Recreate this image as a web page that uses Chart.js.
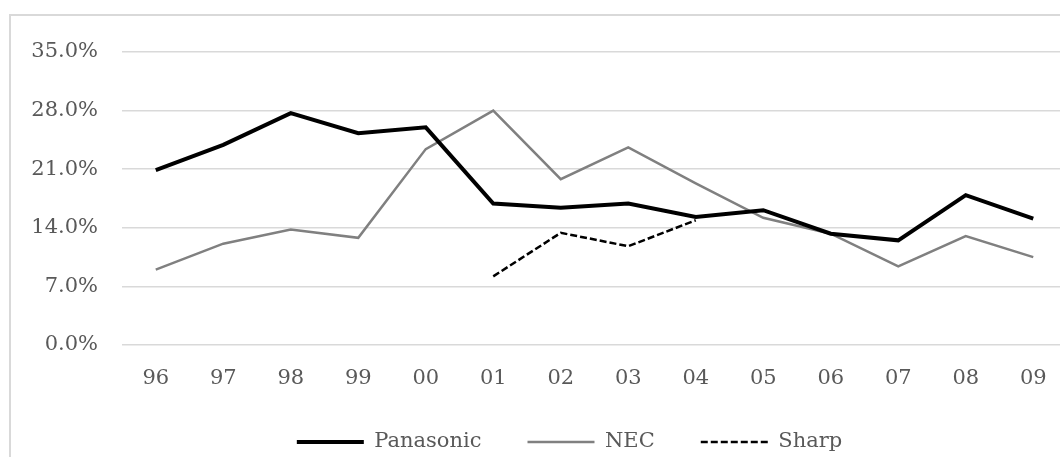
<!DOCTYPE html>
<html>
<head>
<meta charset="utf-8">
<script src="https://cdn.jsdelivr.net/npm/chart.js@4"></script>
<style>
  html, body { margin: 0; padding: 0; background: #fff; overflow: hidden; }
  body { width: 1060px; height: 457px; position: relative; }
  #frame { position: absolute; left: 9px; top: 14px; width: 1200px; height: 600px;
           border-left: 2px solid #d9d9d9; border-top: 2px solid #d9d9d9; }
  #wrap { position: absolute; left: 0; top: 0; width: 1130px; height: 470px; }
</style>
</head>
<body>
<div id="frame"></div>
<div id="wrap"><canvas id="chart"></canvas></div>
<script>
// Share by fiscal year
var years     = ['96', '97', '98', '99', '00', '01', '02', '03', '04', '05', '06', '07', '08', '09'];
var panasonic = [20.9, 23.9, 27.7, 25.3, 26.0, 16.9, 16.4, 16.9, 15.3, 16.1, 13.3, 12.5, 17.9, 15.1];
var nec       = [9.0, 12.1, 13.8, 12.8, 23.4, 28.0, 19.8, 23.6, 19.3, 15.2, 13.3, 9.4, 13.0, 10.5];
var sharp     = [null, null, null, null, null, 8.2, 13.4, 11.8, 14.9, null, null, null, null, null];
var yTicks    = [0, 7, 14, 21, 28, 35];

var labelFont = { family: 'DejaVu Serif', size: 21 };
var labelColor = '#595959';

// Legend sits centred on the whole (wider) chart frame, not on the plot
var legendShift = {
    id: 'legendShift',
    afterLayout: function(chart) {
        var l = chart.legend;
        l.left += 36; l.right += 36;
        l.top -= 7.5; l.bottom -= 7.5;
    }
};

new Chart(document.getElementById('chart'), {
    type: 'line',
    data: {
        labels: years,
        datasets: [{
            label: 'Panasonic',
            data: panasonic,
            borderColor: '#000000',
            borderWidth: 4,
            pointRadius: 0,
            pointStyle: 'line',
            tension: 0
        }, {
            label: 'NEC',
            data: nec,
            borderColor: '#808080',
            borderWidth: 2.5,
            pointRadius: 0,
            pointStyle: 'line',
            tension: 0
        }, {
            label: 'Sharp',
            data: sharp,
            borderColor: '#000000',
            borderWidth: 2.5,
            borderDash: [7, 3],
            pointRadius: 0,
            pointStyle: 'line',
            spanGaps: false,
            tension: 0
        }]
    },
    plugins: [legendShift],
    options: {
        responsive: true,
        maintainAspectRatio: false,
        animation: false,
        layout: {
            padding: { left: 0, right: 63, top: 52, bottom: 0 }
        },
        scales: {
            x: {
                offset: true,
                afterFit: function(axis) { axis.height = 48; },
                grid: { display: false },
                border: { display: false },
                ticks: { font: labelFont, color: labelColor, padding: 13, maxRotation: 0 }
            },
            y: {
                min: 0,
                max: 35,
                afterFit: function(axis) { axis.width = 122; },
                afterBuildTicks: function(axis) {
                    axis.ticks = yTicks.map(function(v) { return { value: v }; });
                },
                grid: { color: '#d9d9d9', lineWidth: 1.5, drawTicks: false },
                border: { display: false },
                ticks: {
                    font: labelFont,
                    color: labelColor,
                    padding: 24,
                    callback: function(value) { return value.toFixed(1) + '%'; }
                }
            }
        },
        plugins: {
            tooltip: { enabled: false },
            legend: {
                position: 'bottom',
                labels: {
                    usePointStyle: true,
                    pointStyleWidth: 67,
                    boxHeight: 10,
                    padding: 46,
                    font: labelFont,
                    color: labelColor,
                    generateLabels: function(chart) {
                        var items = Chart.defaults.plugins.legend.labels.generateLabels(chart);
                        items.forEach(function(item) {
                            var ds = chart.data.datasets[item.datasetIndex];
                            item.lineDash = ds.borderDash || [];
                            item.lineWidth = ds.borderWidth;
                        });
                        return items;
                    }
                }
            }
        }
    }
});
</script>
</body>
</html>
